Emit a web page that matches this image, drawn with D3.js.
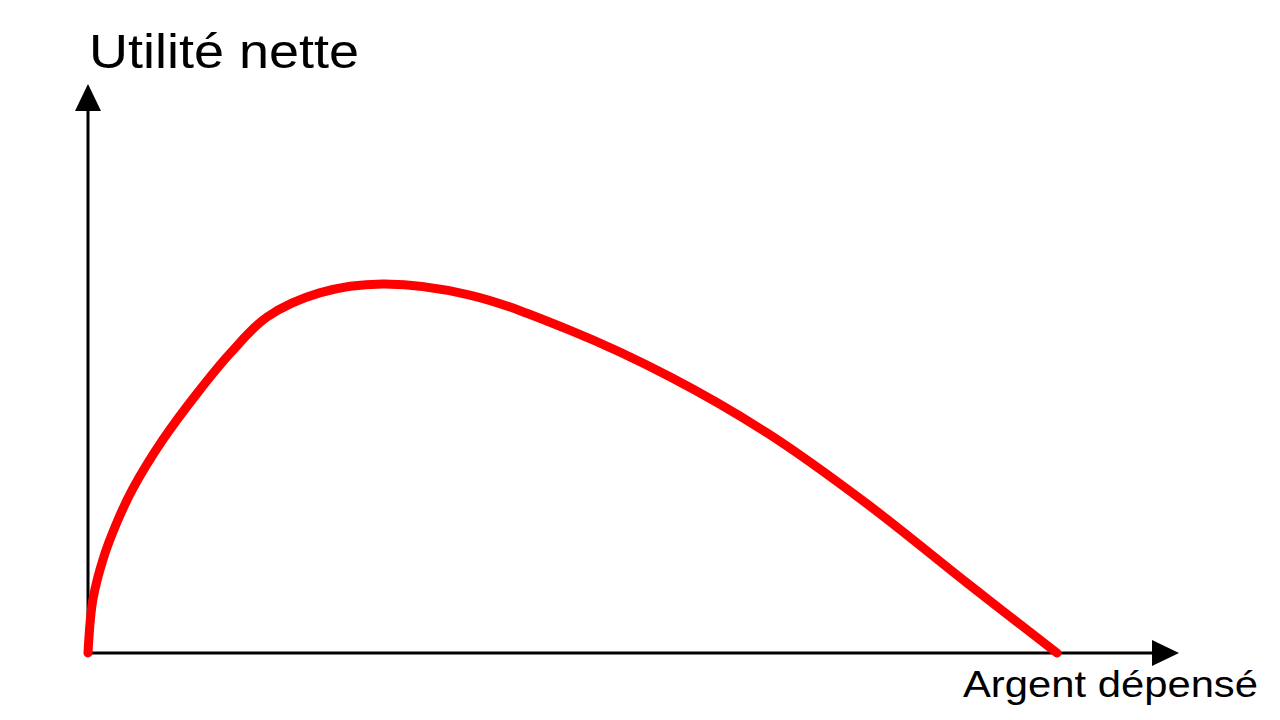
<!DOCTYPE html>
<html>
<head>
<meta charset="utf-8">
<script src="https://cdn.jsdelivr.net/npm/d3@7"></script>
<style>
  html, body { margin: 0; padding: 0; background: #ffffff; }
  svg { display: block; }
  text { font-family: "Liberation Sans", Arial, sans-serif; fill: #000; }
</style>
</head>
<body>
<svg id="chart" width="1280" height="720"></svg>
<script>
// Money spent (abstract units)
const moneySpent = [0, 0.5, 1.6, 3.0, 4.6, 7.7, 11.3, 14.7, 18.5, 23.9, 30.4, 39.4, 49.7, 60.1, 70.1, 80.4, 90.7, 100];
// Net utility (abstract units)
const netUtility = [0, 14.4, 25.8, 35.5, 44.4, 57.7, 70.5, 81.3, 91.1, 97.6, 100, 97.0, 87.5, 74.8, 59.6, 40.4, 19.0, 0];
const yAxisLabel = "Utilité nette";
const xAxisLabel = "Argent dépensé";

const svg = d3.select("#chart");

const x = d3.scaleLinear().domain([0, 100]).range([88, 1057]);
const y = d3.scaleLinear().domain([0, 100]).range([653, 284]);

const xMax = x.invert(1179);
const yMax = y.invert(84);

// Axes
const ax = svg.append("g");
ax.append("line")
  .attr("x1", x(0)).attr("y1", y(0) + 1.5)
  .attr("x2", x(0)).attr("y2", y(yMax) + 20)
  .attr("stroke", "#000").attr("stroke-width", 3);
ax.append("line")
  .attr("x1", x(0) - 1.5).attr("y1", y(0))
  .attr("x2", x(xMax) - 20).attr("y2", y(0))
  .attr("stroke", "#000").attr("stroke-width", 3);

// Arrow heads
ax.append("path")
  .attr("d", `M${x(0)},${y(yMax)} L${x(0) - 13},${y(yMax) + 27} L${x(0) + 13},${y(yMax) + 27} Z`)
  .attr("fill", "#000");
ax.append("path")
  .attr("d", `M${x(xMax)},${y(0)} L${x(xMax) - 27},${y(0) - 13} L${x(xMax) - 27},${y(0) + 13} Z`)
  .attr("fill", "#000");

// Curve
const data = moneySpent.map((m, i) => ({ m, u: netUtility[i] }));
const line = d3.line()
  .x(d => x(d.m))
  .y(d => y(d.u))
  .curve(d3.curveCatmullRom.alpha(0.5));

svg.append("path")
  .datum(data)
  .attr("d", line)
  .attr("fill", "none")
  .attr("stroke", "#ff0000")
  .attr("stroke-width", 9)
  .attr("stroke-linecap", "round")
  .attr("stroke-linejoin", "round");

// Labels
svg.append("text")
  .attr("x", 89).attr("y", 68)
  .attr("font-size", 49)
  .attr("textLength", 270)
  .attr("lengthAdjust", "spacingAndGlyphs")
  .text(yAxisLabel);

svg.append("text")
  .attr("x", 963).attr("y", 697)
  .attr("font-size", 37)
  .attr("textLength", 295)
  .attr("lengthAdjust", "spacingAndGlyphs")
  .text(xAxisLabel);
</script>
</body>
</html>
